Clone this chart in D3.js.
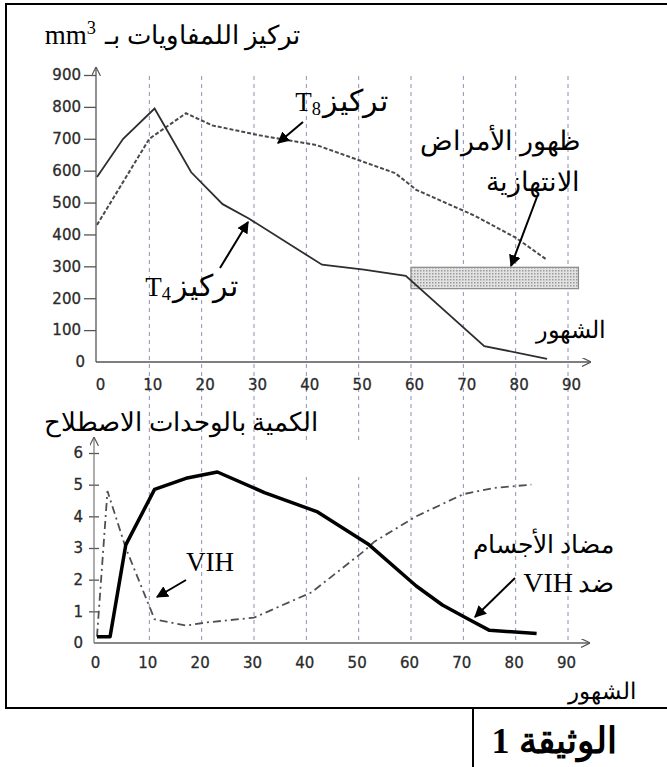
<!DOCTYPE html>
<html>
<head>
<meta charset="utf-8">
<script src="https://cdn.jsdelivr.net/npm/d3@7"></script>
<style>
  body { margin: 0; background: #fff; }
  svg { display: block; }
</style>
</head>
<body>
<svg width="667" height="767"></svg>
<script>
// months on the shared x axis
const monthTicks = [0, 10, 20, 30, 40, 50, 60, 70, 80, 90];
const gridMonths = [10, 20, 30, 40, 50, 60, 70, 80, 90];
const cellTicks = [0, 100, 200, 300, 400, 500, 600, 700, 800, 900];
const unitTicks = [0, 1, 2, 3, 4, 5, 6];

// top chart: lymphocytes per mm3
const t4Months = [0, 5, 11, 18, 24, 29, 43, 51, 59, 74, 86];
const t4Values = [580, 700, 795, 595, 495, 450, 305, 290, 270, 50, 10];
const t8Months = [0, 10, 17, 22, 31, 42, 57, 61, 72, 80, 86];
const t8Values = [430, 700, 780, 742, 711, 680, 592, 540, 460, 390, 320];
const diseaseMonths = [60, 92];
const diseaseValues = [230, 297];

// bottom chart: arbitrary units
const antiMonths = [0, 2.5, 5.5, 11, 17, 23, 32, 42, 52, 61, 66, 71, 75, 84];
const antiValues = [0.2, 0.2, 3.1, 4.85, 5.2, 5.4, 4.75, 4.15, 3.1, 1.8, 1.2, 0.75, 0.4, 0.3];
const vihMonths = [0, 2, 5.5, 11, 17, 21, 30, 41, 51, 53, 61, 70, 76, 83];
const vihValues = [0.2, 4.8, 3.0, 0.75, 0.55, 0.65, 0.8, 1.6, 2.9, 3.2, 4.0, 4.7, 4.9, 5.0];

const serif = "'Liberation Serif', 'Times New Roman', serif";
const sans = "'DejaVu Sans', Verdana, sans-serif";

const svg = d3.select("svg");

const x = d3.scaleLinear().domain([0, 90]).range([97, 568]);
const yTop = d3.scaleLinear().domain([0, 900]).range([362, 75]);
const yBot = d3.scaleLinear().domain([0, 6]).range([643, 453]);

// markers
const defs = svg.append("defs");
defs.append("marker")
  .attr("id", "head")
  .attr("viewBox", "0 0 10 10")
  .attr("refX", 9).attr("refY", 5)
  .attr("markerWidth", 6).attr("markerHeight", 6)
  .attr("markerUnits", "strokeWidth")
  .attr("orient", "auto")
  .append("path").attr("d", "M0,0 L10,5 L0,10 Z").attr("fill", "#000");
defs.append("marker")
  .attr("id", "axisHead")
  .attr("viewBox", "0 0 10 10")
  .attr("refX", 10).attr("refY", 5)
  .attr("markerWidth", 9).attr("markerHeight", 9)
  .attr("markerUnits", "userSpaceOnUse")
  .attr("orient", "auto")
  .append("path").attr("d", "M0,0 L10,5 L0,10").attr("fill", "none")
  .attr("stroke", "#555").attr("stroke-width", 1.3);
const pat = defs.append("pattern")
  .attr("id", "dots").attr("patternUnits", "userSpaceOnUse")
  .attr("width", 3).attr("height", 3);
pat.append("rect").attr("width", 3).attr("height", 3).attr("fill", "#e2e2e2");
pat.append("rect").attr("width", 1.5).attr("height", 1.5).attr("fill", "#9a9a9a");

// frame
svg.append("path")
  .attr("d", "M670,4 L6,4 L6,708 L670,708 M473,708 L473,767")
  .attr("fill", "none").attr("stroke", "#000").attr("stroke-width", 2);

// grid lines shared by both charts
svg.append("g").selectAll("line").data(gridMonths).join("line")
  .attr("x1", d => x(d)).attr("x2", d => x(d))
  .attr("y1", 76).attr("y2", 640)
  .attr("stroke", "#8c90b4").attr("stroke-width", 1)
  .attr("stroke-dasharray", "4,4");

// white patch over part of the grid in the reference
svg.append("rect").attr("x", 304).attr("y", 441).attr("width", 75).attr("height", 36).attr("fill", "#fff");

function styleAxis(g, size)
{
  g.select(".domain").remove();
  g.selectAll("line").attr("stroke", "#555").attr("stroke-width", 1.3);
  g.selectAll("text").attr("font-family", sans).attr("font-size", size).attr("fill", "#2b2b2b")
    .attr("stroke", "#2b2b2b").attr("stroke-width", 0.3);
}

// ---- top chart axes
svg.append("g")
  .attr("transform", "translate(96,0)")
  .call(d3.axisLeft(yTop).tickValues(cellTicks.filter(d => d > 0)).tickSize(12).tickPadding(3))
  .call(g => styleAxis(g, 15));
svg.append("text").attr("x", 85).attr("y", yTop(0)).attr("dy", "0.32em")
  .attr("text-anchor", "end").attr("font-family", sans).attr("font-size", 15).attr("fill", "#2b2b2b")
  .attr("stroke", "#2b2b2b").attr("stroke-width", 0.3).text(cellTicks[0]);
svg.append("line").attr("x1", 96).attr("y1", yTop(0)).attr("x2", 96).attr("y2", 67)
  .attr("stroke", "#555").attr("stroke-width", 1.3).attr("marker-end", "url(#axisHead)");
svg.append("line").attr("x1", 96).attr("y1", yTop(0)).attr("x2", 591).attr("y2", yTop(0))
  .attr("stroke", "#555").attr("stroke-width", 1.3).attr("marker-end", "url(#axisHead)");
svg.append("g")
  .attr("transform", `translate(3,${yTop(0)})`)
  .call(d3.axisBottom(x).tickValues(monthTicks).tickSize(0).tickPadding(17).tickFormat(d3.format("d")))
  .call(g => styleAxis(g, 15));

// ---- bottom chart axes
svg.append("g")
  .attr("transform", "translate(99,0)")
  .call(d3.axisLeft(yBot).tickValues(unitTicks.filter(d => d > 0)).tickSize(10).tickPadding(6).tickFormat(d3.format("d")))
  .call(g => styleAxis(g, 15));
svg.append("text").attr("x", 83).attr("y", yBot(0)).attr("dy", "0.32em")
  .attr("text-anchor", "end").attr("font-family", sans).attr("font-size", 15).attr("fill", "#2b2b2b")
  .attr("stroke", "#2b2b2b").attr("stroke-width", 0.3).text(unitTicks[0]);
svg.append("line").attr("x1", 94).attr("y1", yBot(0)).attr("x2", 94).attr("y2", 437)
  .attr("stroke", "#777").attr("stroke-width", 1.2).attr("marker-end", "url(#axisHead)");
svg.append("line").attr("x1", 94).attr("y1", yBot(0)).attr("x2", 590).attr("y2", yBot(0))
  .attr("stroke", "#888").attr("stroke-width", 2).attr("marker-end", "url(#axisHead)");
svg.append("g")
  .attr("transform", `translate(-2,${yBot(0)})`)
  .call(d3.axisBottom(x).tickValues(monthTicks).tickSize(0).tickPadding(14).tickFormat(d3.format("d")))
  .call(g => styleAxis(g, 15));

// ---- series
const topLine = d3.line().x(d => x(d[0])).y(d => yTop(d[1]));
const botLine = d3.line().x(d => x(d[0])).y(d => yBot(d[1]));

svg.append("rect")
  .attr("x", x(diseaseMonths[0])).attr("y", yTop(diseaseValues[1]))
  .attr("width", x(diseaseMonths[1]) - x(diseaseMonths[0]))
  .attr("height", yTop(diseaseValues[0]) - yTop(diseaseValues[1]))
  .attr("fill", "url(#dots)").attr("stroke", "#8a8a8a").attr("stroke-width", 1.2);

svg.append("path").datum(d3.zip(t8Months, t8Values)).attr("d", topLine)
  .attr("fill", "none").attr("stroke", "#4a4a4a").attr("stroke-width", 2).attr("stroke-dasharray", "4,2");
svg.append("path").datum(d3.zip(t4Months, t4Values)).attr("d", topLine)
  .attr("fill", "none").attr("stroke", "#2e2e2e").attr("stroke-width", 1.8);

svg.append("path").datum(d3.zip(vihMonths, vihValues)).attr("d", botLine)
  .attr("fill", "none").attr("stroke", "#505050").attr("stroke-width", 1.8).attr("stroke-dasharray", "8,4,2,4");
svg.append("path").datum(d3.zip(antiMonths, antiValues)).attr("d", botLine)
  .attr("fill", "none").attr("stroke", "#000").attr("stroke-width", 3.5).attr("stroke-linejoin", "round");

// ---- labels
function rtlLabel(rightX, y, arabic, size, latin, latinSize, sub, gap)
{
  const ar = svg.append("text").attr("x", rightX).attr("y", y)
    .attr("text-anchor", "end").attr("font-family", serif).attr("font-size", size).text(arabic);
  if (!latin) return;
  const left = ar.node().getBBox().x;
  const t = svg.append("text").attr("x", left - gap).attr("y", y)
    .attr("text-anchor", "end").attr("font-family", serif).attr("font-size", latinSize);
  t.append("tspan").text(latin);
  if (sub) t.append("tspan").attr("font-size", latinSize * 0.68).attr("dy", sub[1]).text(sub[0]);
}

rtlLabel(300, 44, "تركيز اللمفاويات بـ", 26, "mm", 27, ["3", -10], 8);
rtlLabel(388, 111, "تركيز", 30, "T", 27, ["8", 4], 0);
rtlLabel(238, 296, "تركيز", 30, "T", 27, ["4", 4], 0);
rtlLabel(580, 150, "ظهور الأمراض", 27);
rtlLabel(580, 191, "الانتهازية", 27);
rtlLabel(606, 338, "الشهور", 24);
rtlLabel(318, 431, "الكمية بالوحدات الاصطلاح", 26);
svg.append("text").attr("x", 186).attr("y", 571).attr("font-family", serif).attr("font-size", 27).text("VIH");
rtlLabel(614, 553, "مضاد الأجسام", 25);
rtlLabel(614, 592, "ضد", 26, "VIH", 28, null, 5);
rtlLabel(636, 699, "الشهور", 23);
svg.append("text").attr("x", 554).attr("y", 753).attr("text-anchor", "middle")
  .attr("font-family", serif).attr("font-size", 36).attr("font-weight", "bold").text("الوثيقة 1");

// ---- annotation arrows
const arrows = [
  [303, 122, 278, 143],
  [220, 268, 248, 222],
  [537, 197, 511, 266],
  [186, 580, 157, 597],
  [515, 578, 475, 617]
];
svg.append("g").selectAll("line").data(arrows).join("line")
  .attr("x1", d => d[0]).attr("y1", d => d[1]).attr("x2", d => d[2]).attr("y2", d => d[3])
  .attr("stroke", "#000").attr("stroke-width", 2).attr("marker-end", "url(#head)");
</script>
</body>
</html>
